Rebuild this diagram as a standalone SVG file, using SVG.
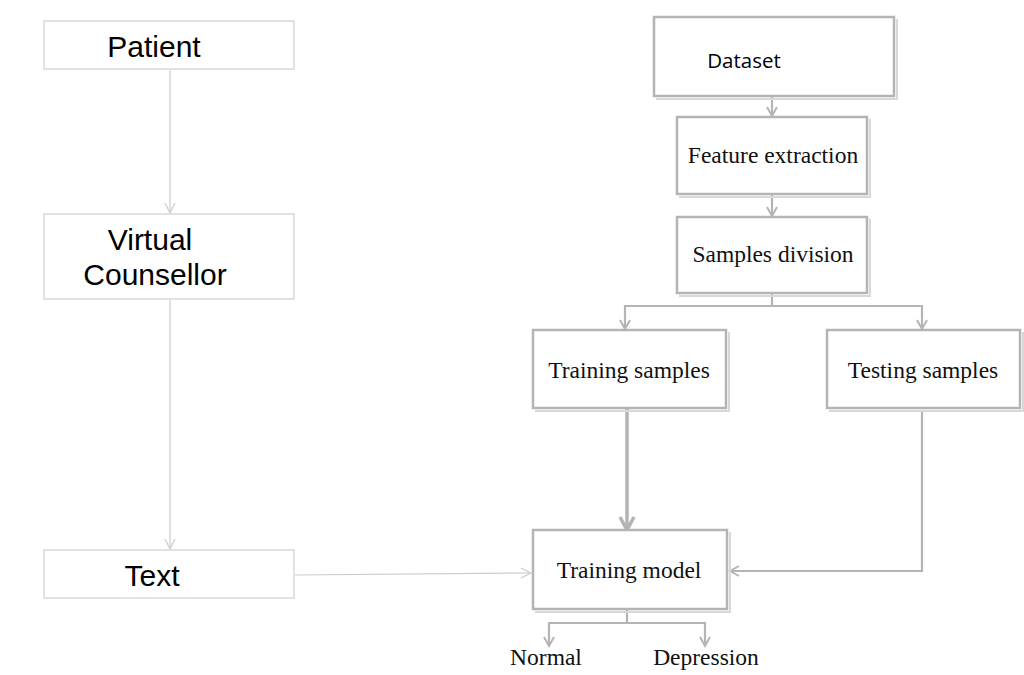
<svg xmlns="http://www.w3.org/2000/svg" width="1024" height="675" viewBox="0 0 1024 675">
<style>
.lbox{fill:#fff;stroke:#cfcfcf;stroke-width:1.2}
.rbox{fill:#fff;stroke:#b4b4b4;stroke-width:2.5}
.sh{fill:none;stroke:#d8d8d8;stroke-width:2}
.lt{font-family:"Liberation Sans",Arial,sans-serif;font-size:30px;fill:#000;text-anchor:middle}
.rt{font-family:"Liberation Serif","Times New Roman",serif;font-size:23.5px;fill:#111;text-anchor:middle}
.st{font-family:"Open Sans","Noto Sans",sans-serif;font-size:20.5px;fill:#000;text-anchor:middle}
.lc{fill:none;stroke:#cccccc;stroke-width:1.2}
.rc{fill:none;stroke:#b4b4b4;stroke-width:2.2}
.tc{fill:none;stroke:#b4b4b4;stroke-width:3.5}
</style>
<defs>
<marker id="la" markerWidth="14" markerHeight="14" refX="11" refY="6" orient="auto" markerUnits="userSpaceOnUse">
<path d="M1,1 L11,6 L1,11" fill="none" stroke="#cccccc" stroke-width="1.2"/>
</marker>
<marker id="ra" markerWidth="14" markerHeight="14" refX="11" refY="6" orient="auto" markerUnits="userSpaceOnUse">
<path d="M2,1 L11,6 L2,11" fill="none" stroke="#b4b4b4" stroke-width="2"/>
</marker>
<marker id="ta" markerWidth="20" markerHeight="20" refX="15" refY="9" orient="auto" markerUnits="userSpaceOnUse">
<path d="M2,2 L15,9 L2,16" fill="none" stroke="#b4b4b4" stroke-width="3.5"/>
</marker>
</defs>
<rect width="1024" height="675" fill="#fff"/>
<g id="connectors">
<line class="lc" x1="170" y1="70" x2="170" y2="213" marker-end="url(#la)"/>
<line class="lc" x1="170" y1="300" x2="170" y2="549" marker-end="url(#la)"/>
<line class="lc" x1="295" y1="575" x2="531" y2="573" marker-end="url(#la)"/>
<line class="rc" x1="772" y1="97" x2="772" y2="116" marker-end="url(#ra)"/>
<line class="rc" x1="772" y1="195" x2="772" y2="216" marker-end="url(#ra)"/>
<polyline class="rc" points="772,294 772,306 625,306 625,329" marker-end="url(#ra)"/>
<polyline class="rc" points="772,306 922,306 922,329" marker-end="url(#ra)"/>
<line class="tc" x1="627" y1="409" x2="627" y2="530" marker-end="url(#ta)"/>
<polyline class="rc" points="922,410 922,571 730,571" marker-end="url(#ra)"/>
<polyline class="rc" points="627,610 627,623 549,623 549,646" marker-end="url(#ra)"/>
<polyline class="rc" points="627,623 705,623 705,646" marker-end="url(#ra)"/>
</g>
<g id="patient"><rect class="lbox" x="44" y="21" width="250" height="48"/><text class="lt" x="154" y="57">Patient</text></g>
<g id="virtual-counsellor"><rect class="lbox" x="44" y="214" width="250" height="85"/><text class="lt" x="150" y="250">Virtual</text><text class="lt" x="155" y="285">Counsellor</text></g>
<g id="text"><rect class="lbox" x="44" y="550" width="250" height="48"/><text class="lt" x="152" y="586">Text</text></g>
<g id="dataset"><polyline class="sh" points="897,19 897,99 656,99"/><rect class="rbox" x="654" y="17" width="240" height="79"/><text class="st" x="744" y="68">Dataset</text></g>
<g id="feature-extraction"><polyline class="sh" points="870,119 870,197 679,197"/><rect class="rbox" x="677" y="117" width="190" height="77"/><text class="rt" x="773" y="163">Feature extraction</text></g>
<g id="samples-division"><polyline class="sh" points="870,219 870,296 679,296"/><rect class="rbox" x="677" y="217" width="190" height="76"/><text class="rt" x="773" y="262">Samples division</text></g>
<g id="training-samples"><polyline class="sh" points="729,332 729,411 535,411"/><rect class="rbox" x="533" y="330" width="193" height="78"/><text class="rt" x="629" y="378">Training samples</text></g>
<g id="testing-samples"><polyline class="sh" points="1023,332 1023,411 829,411"/><rect class="rbox" x="827" y="330" width="193" height="78"/><text class="rt" x="923" y="378">Testing samples</text></g>
<g id="training-model"><polyline class="sh" points="730,532 730,612 535,612"/><rect class="rbox" x="533" y="530" width="194" height="79"/><text class="rt" x="629" y="578">Training model</text></g>
<g id="normal"><text class="rt" x="546" y="665">Normal</text></g>
<g id="depression"><text class="rt" x="706" y="665">Depression</text></g>
</svg>
